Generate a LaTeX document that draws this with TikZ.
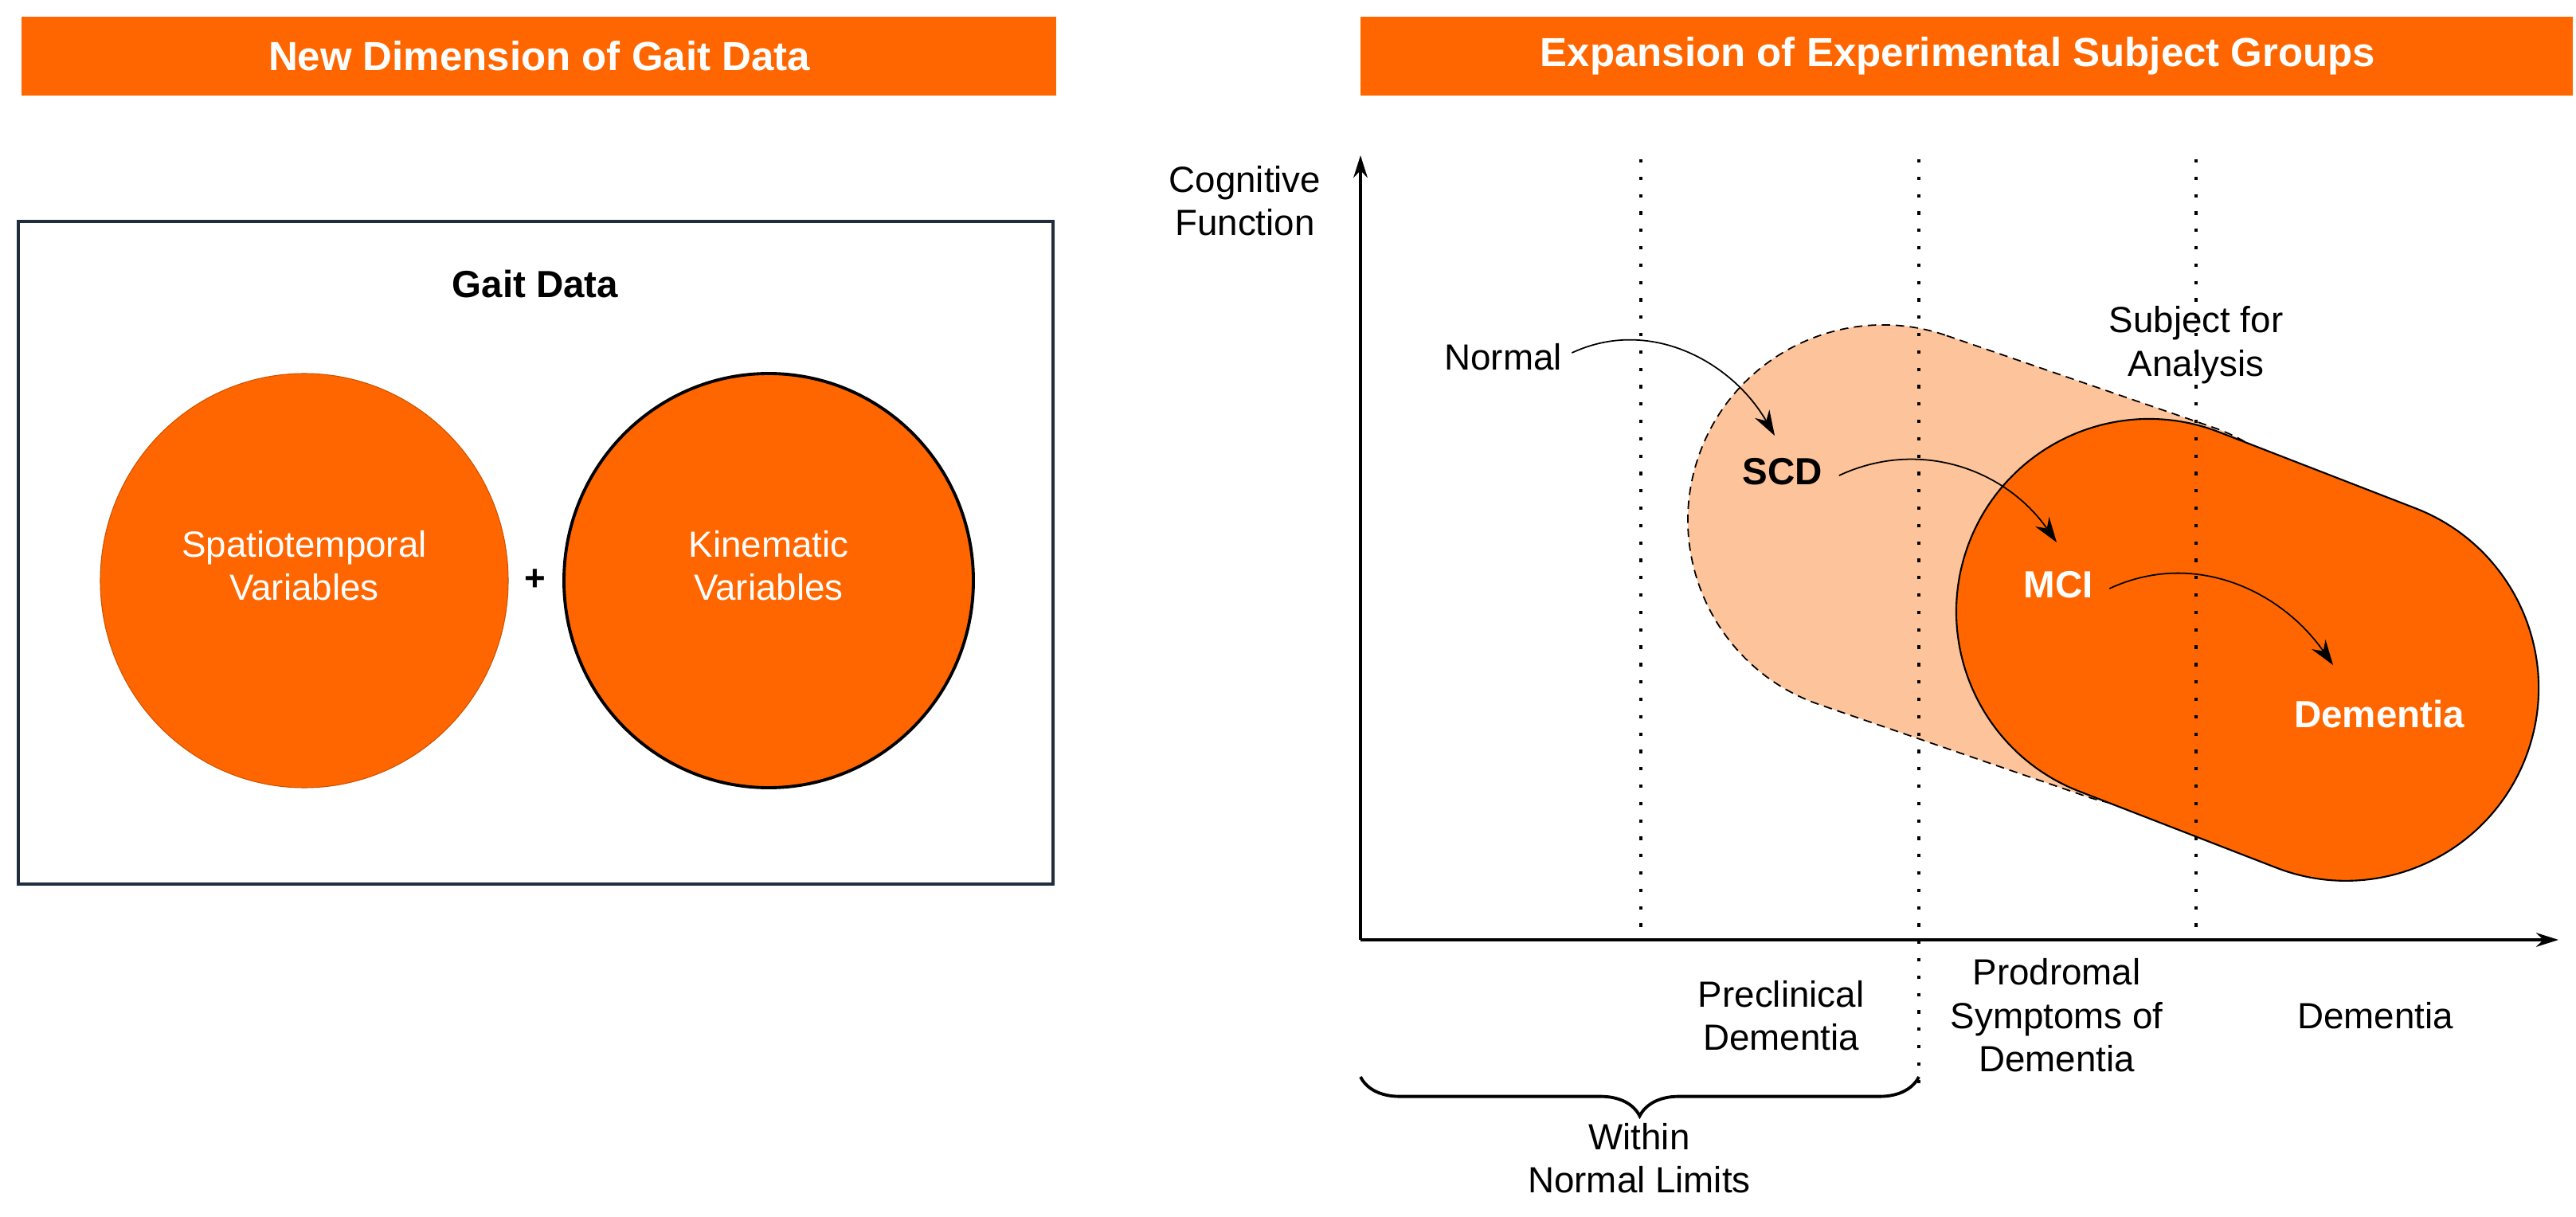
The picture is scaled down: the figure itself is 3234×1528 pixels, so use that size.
\documentclass[tikz,border=0pt]{standalone}
\usepackage{fontspec}
\setmainfont{Liberation Sans}
\usetikzlibrary{arrows.meta,decorations.pathreplacing}
\definecolor{org}{HTML}{FF6600}
\definecolor{lorg}{HTML}{FDC39A}
\definecolor{navy}{HTML}{1F2D3D}
\begin{document}
\begin{tikzpicture}[x=0.01cm,y=0.01cm,
  txt/.style={font=\fontsize{13}{15.5}\selectfont,align=center,inner sep=0},
  btxt/.style={txt,font=\fontsize{13.5}{16}\selectfont\bfseries},
  hdr/.style={fill=org,draw=none,text=white,font=\fontsize{14.5}{17}\selectfont\bfseries},
  curv/.style={-{Stealth[length=9pt,width=6pt]},line width=0.5pt},
  dots/.style={line width=1.1pt,dash pattern=on 1.2pt off 5pt}]
\useasboundingbox (0,0) rectangle (3234,-1528);
% headers
\fill[hdr] (27,-21) rectangle (1326,-120);
\node[hdr,fill=none] (h1) at (677,-70) {New Dimension of Gait Data};
\fill[hdr] (1708,-21) rectangle (3230,-120);
\node[hdr,fill=none] (h2) at (2458,-70) {Expansion of Experimental Subject Groups};
% left box
\draw[navy,line width=0.9pt] (23,-278) rectangle (1322,-1110);
\node[btxt] (gd) at (672,-357) {Gait Data};
\fill[org,draw=org!80!black,line width=0.3pt] (382,-729) ellipse (256 and 260);
\node[txt,text=white] (sv) at (382,-710) {Spatiotemporal\\Variables};
\draw[fill=org,line width=1.1pt] (965,-729) ellipse (257 and 260);
\node[txt,text=white] (kv) at (965,-710) {Kinematic\\Variables};
\node[txt,font=\fontsize{13}{15}\selectfont\bfseries] (plus) at (672,-728) {+};
% light pill
\begin{scope}[shift={(2364,-653)},rotate=-19]
\draw[fill=lorg,dashed,line width=0.5pt,dash pattern=on 3pt off 2pt] (0,245) -- (353,245) arc(90:-90:245) -- (0,-245) arc(270:90:245) -- cycle;
\end{scope}
% dark pill
\begin{scope}[shift={(2698,-768)},rotate=-21.2]
\draw[fill=org,line width=0.6pt] (0,242) -- (265,242) arc(90:-90:242) -- (0,-242) arc(270:90:242) -- cycle;
\end{scope}
% dotted lines
\coordinate (d1t) at (2060,-200); \coordinate (d1b) at (2060,-1180);
\coordinate (d2t) at (2409,-200); \coordinate (d2b) at (2409,-1361);
\coordinate (d3t) at (2757,-200); \coordinate (d3b) at (2757,-1180);
\draw[dots] (d1t) -- (d1b);
\draw[dots] (d2t) -- (d2b);
\draw[dots] (d3t) -- (d3b);
% axes
\coordinate (o) at (1708,-1180);
\coordinate (yt) at (1708,-195);
\coordinate (xe) at (3212,-1180);
\draw[line width=1.1pt,-{Stealth[length=8pt,width=5pt]}] (o) -- (yt);
\draw[line width=1.1pt,-{Stealth[length=8pt,width=5pt]}] (o) -- (xe);
% labels
\node[txt] (cf) at (1563,-252) {Cognitive\\Function};
\node[txt] (nm) at (1887,-448) {Normal};
\node[btxt] (scd) at (2238,-592) {SCD};
\node[btxt,text=white] (mci) at (2584,-734) {MCI};
\node[btxt,text=white] (dem) at (2987,-897) {Dementia};
\node[txt] (sub) at (2757,-433) {Subject for\\Analysis};
\node[txt] (pre) at (2236,-1275) {Preclinical\\Dementia};
\node[txt] (pro) at (2582,-1275) {Prodromal\\Symptoms of\\Dementia};
\node[txt] (dm2) at (2982,-1275) {Dementia};
\node[txt] (wnl) at (2058,-1454) {Within\\Normal Limits};
% curved arrows
\draw[curv] (nm.east) ++(12,5) to[out=25,in=120] (2228,-547);
\draw[curv] (scd.east) ++(20,-5) to[out=25,in=125] (2582,-681);
\draw[curv] (mci.east) ++(20,-5) to[out=25,in=125] (2929,-835);
% brace
\draw[line width=1.1pt,decorate,decoration={brace,mirror,amplitude=14pt}] (1708,-1352) -- (2409,-1352);
\end{tikzpicture}
\end{document}
